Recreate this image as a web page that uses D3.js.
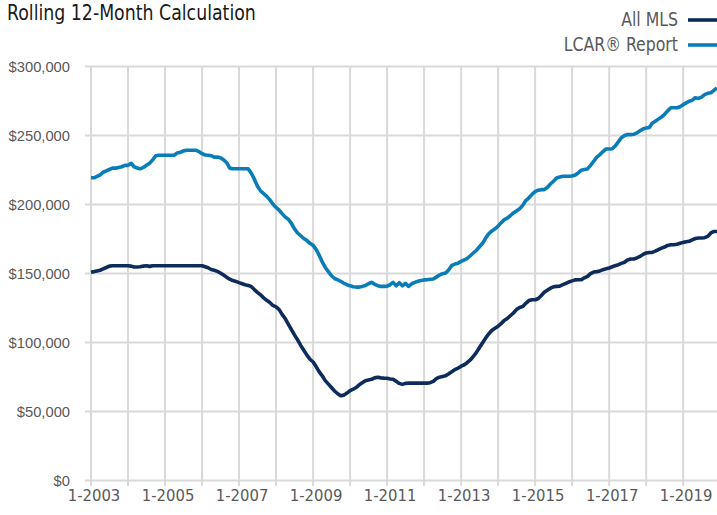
<!DOCTYPE html>
<html>
<head>
<meta charset="utf-8">
<script src="https://cdnjs.cloudflare.com/ajax/libs/d3/7.8.5/d3.min.js"></script>
<style>
  body { margin: 0; background: #fff; }
  svg { display: block; font-family: "Liberation Sans Narrow", "Arial Narrow", "DejaVu Sans Condensed", sans-serif; }
</style>
</head>
<body>
<div id="container"></div>
<script>
// monthly values, Jan 2003 .. Dec 2019 (in $ thousands)
var lcar = [
  219, 219, 220, 221, 223, 224, 225, 226, 226, 226.5,
  227, 228, 228, 229.5, 227, 226, 225.5, 226.5, 228, 229.5,
  232, 235, 235.3, 235.3, 235.3, 235.3, 235.3, 235.3, 237, 237.5,
  238.5, 239, 239, 239, 239, 238, 236.5, 235.5, 235.3, 235,
  234, 234, 233.5, 232, 230, 226, 225.5, 225.5, 225.5, 225.5,
  225.5, 225.5, 222.5, 218, 213, 209.5, 207.5, 205.5, 203, 200,
  197.5, 195.5, 193, 190.5, 189, 186, 182, 179, 177, 175,
  173.5, 171.5, 170, 167, 163, 158, 154, 151, 148, 146,
  145, 144, 142.5, 141.5, 140.7, 140, 139.8, 139.8, 140.3, 141,
  142.2, 143.2, 141.8, 140.8, 140.3, 140.3, 140.5, 141.5, 143.2, 140.7,
  143, 140.7, 142.5, 140.3, 142.2, 143.2, 144, 144.6, 145, 145.1,
  145.5, 145.6, 147, 148.5, 149.5, 150, 152.4, 155.5, 156.5, 157,
  158.4, 159.5, 160.5, 162.5, 164.5, 166.5, 169, 171.5, 175.5, 178.5,
  180.5, 182, 184, 186.5, 188.5, 189.8, 191.5, 193.5, 195, 196.5,
  199, 202.5, 204.5, 207, 209, 210, 210.4, 210.4, 212, 214.5,
  216.5, 218.9, 219.5, 220.1, 220.1, 220.1, 220.3, 221, 222.5, 224.5,
  225, 225.4, 228, 231, 234, 235.8, 238, 239.9, 239.9, 240,
  242, 245, 248, 249.6, 250.3, 250.3, 250.5, 251.5, 253, 254.4,
  255, 255.5, 258.5, 260, 261.5, 263, 265, 267.5, 269.7, 269.7,
  269.7, 270.5, 272, 273.3, 274.5, 275.2, 277, 276.5, 277.5, 279.3,
  280.2, 280.6, 282.4, 284
];

var allMls = [
  150.5, 151, 151.5, 152, 153, 154, 155, 155.3, 155.3, 155.3,
  155.3, 155.3, 155.3, 155, 154.3, 154.3, 154.5, 155, 155.3, 154.8,
  155.3, 155.3, 155.3, 155.3, 155.3, 155.3, 155.3, 155.3, 155.3, 155.3,
  155.3, 155.3, 155.3, 155.3, 155.3, 155.3, 155.3, 154.5, 153.8, 152.5,
  152, 151.2, 150, 148.5, 147, 145.5, 144.5, 143.9, 143, 142.2,
  141.5, 141, 140.2, 138, 136, 134.2, 132, 130.2, 128.6, 126.5,
  125.5, 123.5, 120, 117, 113, 109, 105.2, 101.5, 97.5, 94,
  90.5, 87.5, 85.5, 82, 78.5, 75.5, 72, 69.5, 67, 64.5,
  62.5, 61, 61.5, 63, 64.8, 65.8, 67, 69, 70.5, 72,
  72.5, 73, 74, 74.5, 74, 73.8, 73.7, 73.2, 73, 71.5,
  70, 69.3, 70, 70.2, 70.2, 70.2, 70.2, 70.2, 70.2, 70.2,
  70.5, 71.5, 73.5, 74.5, 75, 75.5, 77, 78.5, 80, 81,
  82.5, 83.5, 85, 87, 89.5, 92.5, 96, 99.5, 103, 106,
  108.5, 110, 111.5, 113.5, 115.5, 117, 119, 121, 123.5, 125,
  125.7, 128, 130, 130.6, 130.6, 131.5, 133.5, 136, 137.5, 139,
  140, 140.3, 140.5, 141.5, 142.5, 143.5, 144.3, 145, 145.1, 145.1,
  146.5, 147.5, 149.5, 150.7, 151, 151.5, 152.4, 153, 153.6, 154.5,
  155.3, 156, 157, 157.8, 159.5, 160.1, 160.1, 161, 162, 163.5,
  164.5, 164.9, 164.9, 165.8, 166.9, 168, 168.8, 170, 170.5, 170.5,
  170.8, 171.5, 172.2, 172.6, 173, 174, 175, 175.4, 175.4, 175.6,
  176.5, 179, 180.1, 180.1
];

var months = d3.timeMonth.range(new Date(2003, 0, 1), new Date(2020, 0, 1));
var gridYears = d3.range(2003, 2020);
var labelYears = [2003, 2005, 2007, 2009, 2011, 2013, 2015, 2017, 2019];
var yTicks = [0, 50000, 100000, 150000, 200000, 250000, 300000];

var series = [
  {name: "All MLS", color: "#0d2c5b", values: allMls},
  {name: "LCAR\u00AE Report", color: "#0a7db8", values: lcar}
];

var width = 717, height = 515;

// squeeze text horizontally so it reads like the narrow font of the original
function narrow(sel, k) {
    sel.each(function() {
        var w = this.getComputedTextLength();
        d3.select(this).attr("textLength", w * k).attr("lengthAdjust", "spacingAndGlyphs");
    });
}

function drawChart() {
    var svg = d3.select("#container")
      .append("svg")
        .attr("width", width)
        .attr("height", height);

    var x = d3.scaleTime()
        .domain([new Date(2003, 0, 1), new Date(2019, 11, 1)])
        .range([91, 717]);

    var y = d3.scaleLinear()
        .domain([0, 300000])
        .range([480, 66]);

    // horizontal grid + y labels
    svg.append("g")
        .attr("transform", "translate(91,0)")
        .call(d3.axisLeft(y).tickValues(yTicks)
            .tickSize(-(width - 91)).tickSizeOuter(0)
            .tickFormat(function(d) { return "$" + d3.format(",")(d); }))
        .call(function(g) {
            g.select(".domain").remove();
            g.selectAll(".tick line").attr("stroke", "#d9d9d9").attr("stroke-width", 2)
              .attr("x1", -6);
            g.selectAll(".tick text").attr("x", -21).attr("fill", "#595959")
              .attr("dy", "0.35em")
              .style("font-size", "15.5px")
              .call(narrow, 0.95);
        });

    // vertical grid
    svg.append("g")
        .selectAll("line")
        .data(gridYears)
        .enter()
        .append("line")
        .attr("x1", function(d) { return x(new Date(d, 0, 1)); })
        .attr("x2", function(d) { return x(new Date(d, 0, 1)); })
        .attr("y1", y(300000))
        .attr("y2", 486)
        .attr("stroke", "#d9d9d9")
        .attr("stroke-width", 2);

    // x labels
    svg.append("g")
        .selectAll("text")
        .data(labelYears)
        .enter()
        .append("text")
        .attr("x", function(d) { return x(new Date(d, 0, 1)) + 3; })
        .attr("y", 501)
        .attr("text-anchor", "middle")
        .attr("fill", "#595959")
        .style("font-size", "16.5px")
        .text(function(d) { return "1-" + d; });

    var line = d3.line()
        .x(function(d, i) { return x(months[i]); })
        .y(function(d) { return y(d * 1000); });

    svg.selectAll("path.series")
        .data(series)
        .enter()
        .append("path")
        .attr("class", "series")
        .attr("fill", "none")
        .attr("stroke", function(d) { return d.color; })
        .attr("stroke-width", 3.6)
        .attr("stroke-linejoin", "round")
        .attr("d", function(d) { return line(d.values); });

    // title
    svg.append("text")
        .attr("x", 7)
        .attr("y", 19.5)
        .attr("fill", "#1a1a1a")
        .style("font-size", "21px")
        .text("Rolling 12-Month Calculation")
        .call(narrow, 248 / 270);

    // legend
    var legend = svg.selectAll("g.legend")
        .data(series)
        .enter()
        .append("g")
        .attr("class", "legend")
        .attr("transform", function(d, i) { return "translate(0," + (19 + i * 25) + ")"; });

    legend.append("text")
        .attr("x", 678)
        .attr("y", 7)
        .attr("text-anchor", "end")
        .attr("fill", "#595959")
        .style("font-size", "20px")
        .text(function(d) { return d.name; })
        .call(narrow, 0.875);

    legend.append("line")
        .attr("x1", 688).attr("x2", 717)
        .attr("y1", 1).attr("y2", 1)
        .attr("stroke", function(d) { return d.color; })
        .attr("stroke-width", 3.6);
}

drawChart();
</script>
</body>
</html>
